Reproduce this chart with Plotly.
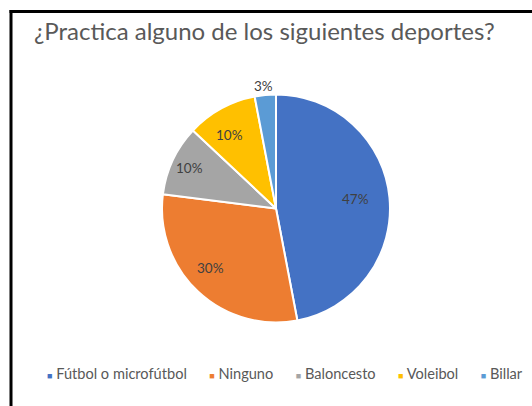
import numpy as np
import plotly.graph_objects as go

## Data

deportes = ['Fútbol o microfútbol', 'Ninguno', 'Baloncesto', 'Voleibol', 'Billar']
porcentajes = [47, 30, 10, 10, 3]
colores = ['#4472C4', '#ED7D31', '#A5A5A5', '#FFC000', '#5B9BD5']

W, H = 532, 406

## Pie chart

fig = go.Figure()

cx, cy, r = 276, 208.5, 114
fig.add_trace(go.Pie(
    labels = deportes, values = porcentajes, sort = False,
    direction = 'clockwise', rotation = 0,
    marker = dict(colors = colores, line = dict(color = 'white', width = 2)),
    textinfo = 'none',
    domain = dict(x = [(cx - r) / W, (cx + r) / W], y = [(H - cy - r) / H, (H - cy + r) / H]),
    hoverinfo = 'label+percent', showlegend = False
))

# Excel-style data labels, placed at ~84% of the radius (outside for tiny slices)
vals = np.array(porcentajes, dtype = float)
mid = (np.cumsum(vals) - vals / 2) / vals.sum() * 2 * np.pi
for v, a in zip(vals, mid):
    k = 0.84 if v >= 5 else 1.17
    fig.add_annotation(
        x = (cx + k * r * np.sin(a)) / W, y = (H - cy + k * r * np.cos(a)) / H,
        xref = 'paper', yref = 'paper', showarrow = False,
        text = f'{v / vals.sum():.0%}',
        font = dict(family = 'Lato', size = 13.5, color = '#404040')
    )

# legend drawn as one line of text with coloured squares
items = [f'<span style="color:{c};font-size:9px">■</span> {d}' for d, c in zip(deportes, colores)]
fig.add_annotation(
    x = 284.5 / W, y = 1 - 384 / H, xref = 'paper', yref = 'paper', showarrow = False,
    text = '      '.join(items),
    font = dict(family = 'Lato', size = 14.6, color = '#595959')
)

# black frame along top and left edge
fig.add_shape(type = 'line', xref = 'paper', yref = 'paper',
              x0 = 11 / W, x1 = 11 / W, y0 = 0, y1 = 1 - 10 / H,
              line = dict(color = 'black', width = 3))
fig.add_shape(type = 'line', xref = 'paper', yref = 'paper',
              x0 = 9.5 / W, x1 = 1, y0 = 1 - 11.5 / H, y1 = 1 - 11.5 / H,
              line = dict(color = 'black', width = 3))

fig.update_layout(
    width = W, height = H,
    margin = dict(l = 0, r = 0, t = 0, b = 0),
    paper_bgcolor = 'white', plot_bgcolor = 'white',
    title = dict(text = '¿Practica alguno de los siguientes deportes?',
                 x = 0.497, xanchor = 'center', y = 1 - 32 / H, yanchor = 'middle',
                 font = dict(family = 'Lato', size = 24, color = '#595959')),
    showlegend = False
)

# drop the default 8px page margin so the figure sits at the window's corner
fig.write_html("out.html", config = {'displayModeBar': False},
               post_script = "document.body.style.margin = '0';")
